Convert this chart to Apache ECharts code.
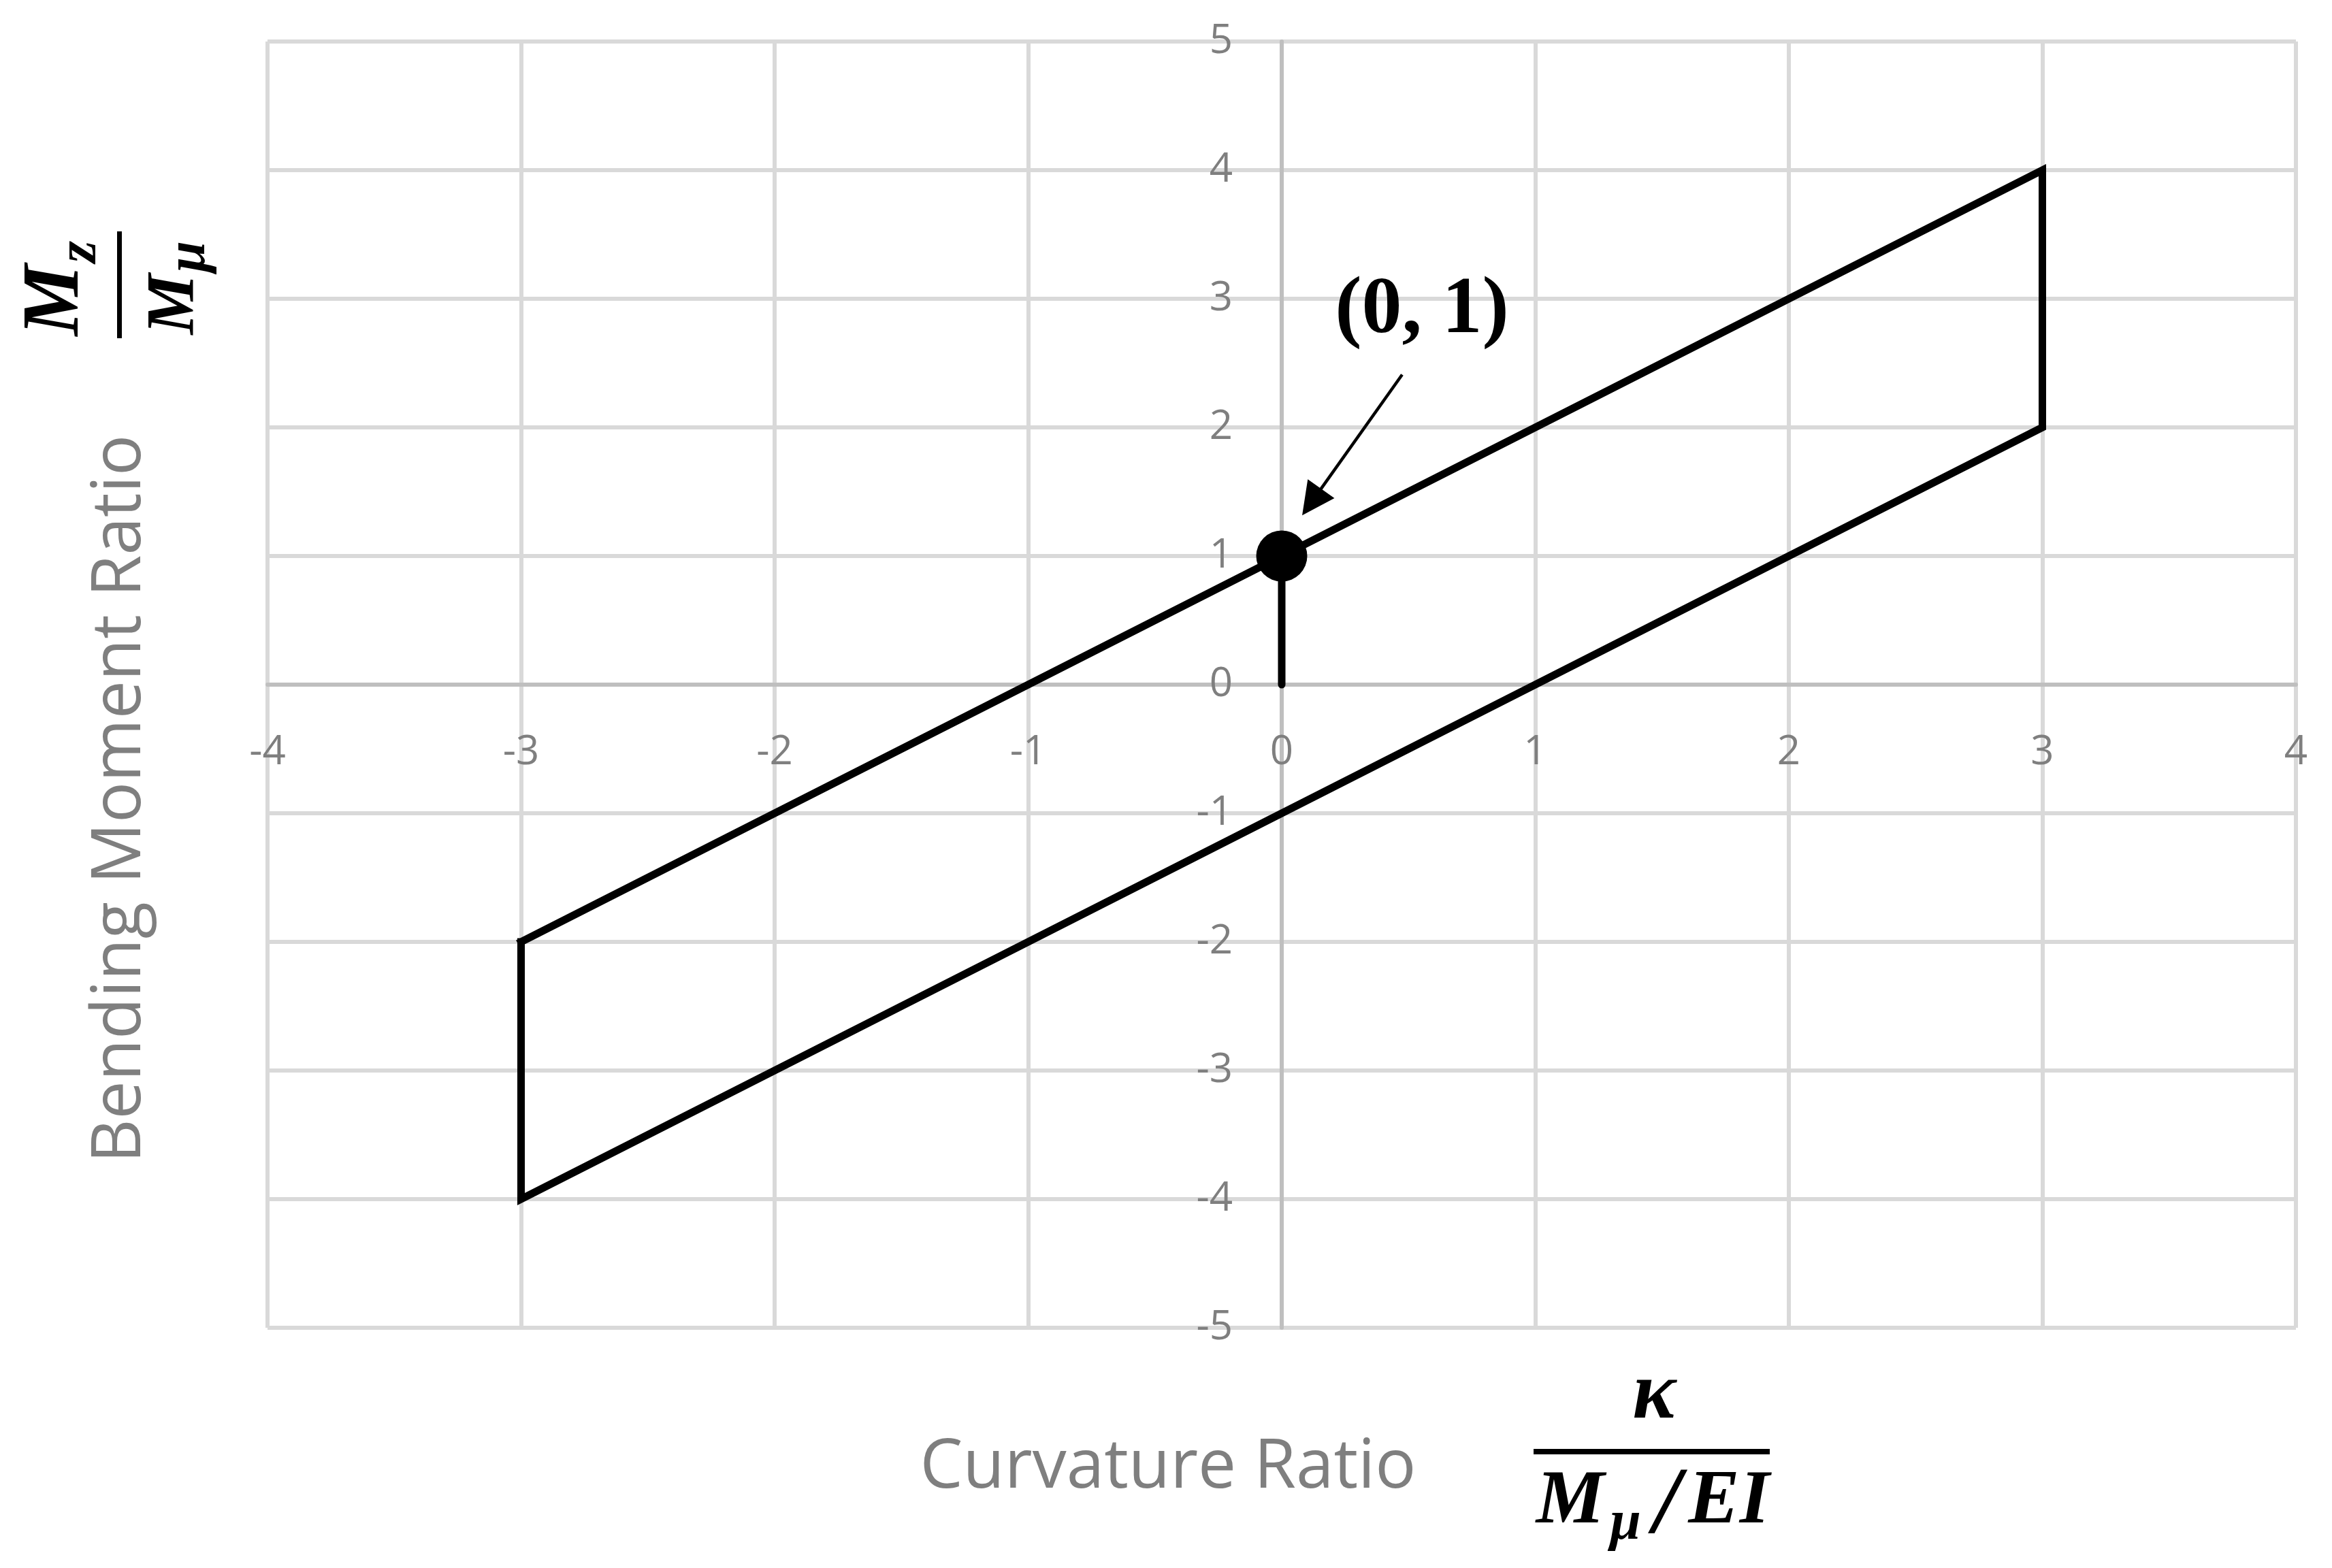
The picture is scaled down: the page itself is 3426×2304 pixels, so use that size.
<!DOCTYPE html>
<html><head><meta charset="utf-8">
<script src="https://cdn.jsdelivr.net/npm/echarts@6/dist/echarts.min.js"></script>
<style>html,body{margin:0;padding:0;background:#fff}#c{width:3426px;height:2304px}</style>
</head><body><div id="c"></div>
<script>
// ---- data ----
const xTicks = [-4, -3, -2, -1, 0, 1, 2, 3, 4];
const yTicks = [-5, -4, -3, -2, -1, 0, 1, 2, 3, 4, 5];
const loopX = [-3, 3, 3, -3, -3];
const loopY = [-2, 4, 2, -4, -2];
const stemX = [0, 0];
const stemY = [0, 1];
const pointX = [0];
const pointY = [1];
const arrowFrom = [0.475, 2.41];
const arrowTo = [0.118, 1.42];
const annotationText = '(0, 1)';
const annotationAt = [0.553, 2.9];
const xTitle = 'Curvature Ratio';
const yTitle = 'Bending Moment Ratio';

const pairs = (xs, ys) => xs.map((x, i) => [x, ys[i]]);
const GRAY = '#7f7f7f';
const SERIF = '"Liberation Serif", "Times New Roman", serif';
const SANS = '"Open Sans", "Noto Sans", sans-serif';

const W = 3426, H = 2304;
const G = {left: 393, right: 53, top: 61, bottom: 353};
const xMin = xTicks[0], xMax = xTicks[xTicks.length - 1];
const yMin = yTicks[0], yMax = yTicks[yTicks.length - 1];
const gridW = W - G.left - G.right, gridH = H - G.top - G.bottom;
// cross axes through zero (Excel style)
const yAxisOffset = -gridW * (0 - xMin) / (xMax - xMin);
const xAxisOffset = -gridH * (0 - yMin) / (yMax - yMin);

const chart = echarts.init(document.getElementById('c'), null, {renderer: 'canvas'});

function mathText(x, y, text, size, rotated) {
  return {
    type: 'text', x: x, y: y, rotation: rotated ? Math.PI / 2 : 0,
    style: {
      text: text, fontSize: size, fontFamily: SERIF, fontWeight: 'bold', fontStyle: 'italic',
      fill: '#000', textAlign: 'center', textVerticalAlign: 'middle'
    }
  };
}

const option = {
  animation: false,
  backgroundColor: '#ffffff',
  grid: Object.assign({containLabel: false, outerBoundsMode: 'none'}, G),
  xAxis: {
    type: 'value', min: xMin, max: xMax, interval: 1, position: 'bottom', offset: xAxisOffset,
    axisLine: {show: true, onZero: false, lineStyle: {color: '#bfbfbf', width: 6}},
    axisTick: {show: false},
    splitLine: {show: true, lineStyle: {color: '#d9d9d9', width: 6}},
    axisLabel: {color: GRAY, fontSize: 60, fontFamily: SANS, margin: 70, showMinLabel: true, showMaxLabel: true}
  },
  yAxis: {
    type: 'value', min: yMin, max: yMax, interval: 1, position: 'left', offset: yAxisOffset,
    axisLine: {show: true, onZero: false, lineStyle: {color: '#bfbfbf', width: 6}},
    axisTick: {show: false},
    splitLine: {show: true, lineStyle: {color: '#d9d9d9', width: 6}},
    axisLabel: {color: GRAY, fontSize: 60, fontFamily: SANS, margin: 72, showMinLabel: true, showMaxLabel: true}
  },
  series: [
    {
      type: 'line', data: pairs(loopX, loopY), symbol: 'none', silent: true,
      lineStyle: {color: '#000', width: 11, join: 'miter', cap: 'square'}, z: 3
    },
    {
      type: 'line', data: pairs(stemX, stemY), symbol: 'none', silent: true,
      lineStyle: {color: '#000', width: 11, cap: 'round'}, z: 3,
      markLine: {
        silent: true, symbol: ['none', 'triangle'], symbolSize: 48,
        lineStyle: {color: '#000', width: 4.5, type: 'solid'},
        itemStyle: {color: '#000'},
        label: {show: false},
        data: [[{coord: arrowFrom}, {coord: arrowTo}]]
      }
    },
    {
      type: 'scatter', data: pairs(pointX, pointY), symbol: 'circle', symbolSize: 75,
      itemStyle: {color: '#000', opacity: 1}, silent: true, z: 5
    },
    {
      type: 'scatter', data: [annotationAt], symbolSize: 1, silent: true, z: 6,
      itemStyle: {color: 'rgba(0,0,0,0)', opacity: 1},
      label: {
        show: true, position: 'inside', formatter: annotationText,
        fontFamily: SERIF, fontWeight: 'bold', fontSize: 118, color: '#000'
      }
    }
  ],
  graphic: [
    {
      type: 'text', x: 178, y: 1174, rotation: Math.PI / 2,
      style: {text: yTitle, fontSize: 100, fontFamily: SANS, fill: GRAY, textAlign: 'center', textVerticalAlign: 'middle'}
    },
    {
      type: 'text', x: 1716, y: 2158,
      style: {text: xTitle, fontSize: 100, fontFamily: SANS, fill: GRAY, textAlign: 'center', textVerticalAlign: 'middle'}
    },
    // y-axis math: M_z / M_mu (rotated)
    mathText(84, 441, 'M', 118, true),
    mathText(119, 370, 'z', 83, true),
    {type: 'line', shape: {x1: 175.5, y1: 340, x2: 175.5, y2: 497}, style: {stroke: '#000', lineWidth: 7}},
    mathText(257, 447, 'M', 100, true),
    mathText(279, 377, 'μ', 82, true),
    // x-axis math: kappa / (M_mu / EI)
    mathText(2430, 2052, 'κ', 120, false),
    {type: 'line', shape: {x1: 2253, y1: 2133, x2: 2600, y2: 2133}, style: {stroke: '#000', lineWidth: 8}},
    mathText(2307, 2208, 'M', 113, false),
    mathText(2388, 2240, 'μ', 82, false),
    mathText(2449, 2216, '/', 140, false),
    mathText(2540, 2208, 'EI', 113, false)
  ]
};
chart.setOption(option);
</script>
</body></html>
